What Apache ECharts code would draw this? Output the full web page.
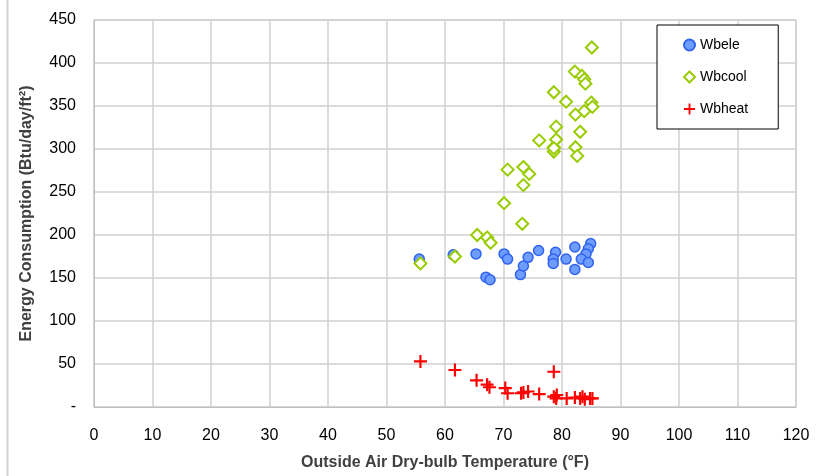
<!DOCTYPE html>
<html>
<head>
<meta charset="utf-8">
<script src="https://cdn.jsdelivr.net/npm/echarts@6/dist/echarts.min.js"></script>
<style>
  html, body { margin: 0; padding: 0; background: #fff; }
  #chart { width: 824px; height: 476px; }
</style>
</head>
<body>
<div id="chart"></div>
<script>
// x = outside air temperature (F), y = energy use (Btu/day/ft2)
var eleTemp = [55.6, 61.4, 65.3, 67.0, 67.7, 70.1, 70.7, 72.9, 73.4, 74.2, 76.0, 78.9, 78.5, 78.5, 80.7, 82.2, 82.2, 84.9, 84.5, 84.1, 83.3, 84.5];
var eleVal  = [172, 177, 178, 151, 148, 178, 172, 154, 164, 174, 182, 180, 172, 167, 172, 186, 160, 190, 184, 178, 172, 168];

var coolTemp = [55.8, 61.7, 65.5, 67.2, 67.8, 70.1, 70.7, 73.2, 73.4, 73.4, 74.4, 76.1, 78.6, 78.6, 78.6, 79.0, 79.0, 78.6, 80.7, 82.2, 83.4, 83.8, 84.0, 85.1, 85.0, 85.2, 83.8, 82.3, 83.1, 82.3, 82.6];
var coolVal  = [167, 175, 200, 197, 191, 237, 276, 213, 279, 258, 271, 310, 302, 297, 366, 326, 311, 301, 355, 390, 385, 381, 376, 418, 354, 349, 344, 340, 320, 302, 292];

var heatTemp = [55.8, 61.7, 65.4, 67.2, 67.6, 70.3, 70.7, 73.4, 74.2, 76.1, 78.6, 78.6, 79.0, 79.1, 80.8, 82.2, 83.1, 83.5, 83.9, 84.8, 85.2, 73.0];
var heatVal  = [53, 43, 31, 26, 23, 22, 16, 17, 18, 15, 41, 12, 10, 14, 10, 11, 10, 12, 9, 10, 10, 16];

var xTicks = [0, 120, 10];
var yTicks = [0, 450, 50];

function pairs(xs, ys) {
  return xs.map(function (x, i) { return [x, ys[i]]; });
}

var chart = echarts.init(document.getElementById('chart'));
var plus = 'path://M5,0 L7,0 L7,5 L12,5 L12,7 L7,7 L7,12 L5,12 L5,7 L0,7 L0,5 L5,5 Z';

var option = {
  backgroundColor: '#fff',
  animation: false,
  textStyle: { fontFamily: 'Liberation Sans, Arial, sans-serif' },
  grid: {
    left: 94, right: 28, top: 20, bottom: 67,
    show: true, borderColor: '#bfbfbf', borderWidth: 1
  },
  graphic: [{
    type: 'line', shape: { x1: 7.5, y1: 0, x2: 7.5, y2: 476 },
    style: { stroke: '#d0d0d0', lineWidth: 2 }
  }],
  legend: {
    orient: 'vertical',
    left: 657, top: 25,
    padding: [13, 30, 13, 26],
    itemGap: 18,
    itemWidth: 11, itemHeight: 11,
    backgroundColor: '#fff',
    borderColor: '#000', borderWidth: 1,
    textStyle: { fontSize: 14, color: '#000' },
    data: ['Wbele', 'Wbcool', 'Wbheat']
  },
  xAxis: {
    type: 'value',
    min: xTicks[0], max: xTicks[1], interval: xTicks[2],
    name: 'Outside Air Dry-bulb Temperature (°F)',
    nameLocation: 'middle', nameGap: 48,
    nameTextStyle: { fontSize: 16, fontWeight: 'bold', color: '#404040' },
    axisLine: { show: true, lineStyle: { color: '#bfbfbf' } },
    axisTick: { show: false },
    axisLabel: { fontSize: 16, color: '#000', margin: 21 },
    splitLine: { show: true, lineStyle: { color: '#d0d0d0', width: 1.5 } }
  },
  yAxis: {
    type: 'value',
    min: yTicks[0], max: yTicks[1], interval: yTicks[2],
    name: 'Energy Consumption (Btu/day/ft²)',
    nameLocation: 'middle', nameGap: 59,
    nameTextStyle: { fontSize: 16, fontWeight: 'bold', color: '#404040' },
    axisLine: { show: true, lineStyle: { color: '#bfbfbf' } },
    axisTick: { show: false },
    axisLabel: {
      fontSize: 16, color: '#000', margin: 18,
      formatter: function (v) { return v === 0 ? '-' : v; }
    },
    splitLine: { show: true, lineStyle: { color: '#d0d0d0', width: 1.5 } }
  },
  series: [
    {
      name: 'Wbele', type: 'scatter', symbol: 'circle', symbolSize: 10,
      itemStyle: { color: '#6f9cff', borderColor: '#2f63f0', borderWidth: 1.5, opacity: 1 },
      data: pairs(eleTemp, eleVal)
    },
    {
      name: 'Wbcool', type: 'scatter', symbol: 'diamond', symbolSize: 12,
      itemStyle: { color: '#fff', borderColor: '#99cc00', borderWidth: 2, opacity: 1 },
      data: pairs(coolTemp, coolVal)
    },
    {
      name: 'Wbheat', type: 'scatter', symbol: plus, symbolSize: 13,
      itemStyle: { color: '#ff0000', opacity: 1 },
      data: pairs(heatTemp, heatVal)
    }
  ]
};

chart.setOption(option);
</script>
</body>
</html>
